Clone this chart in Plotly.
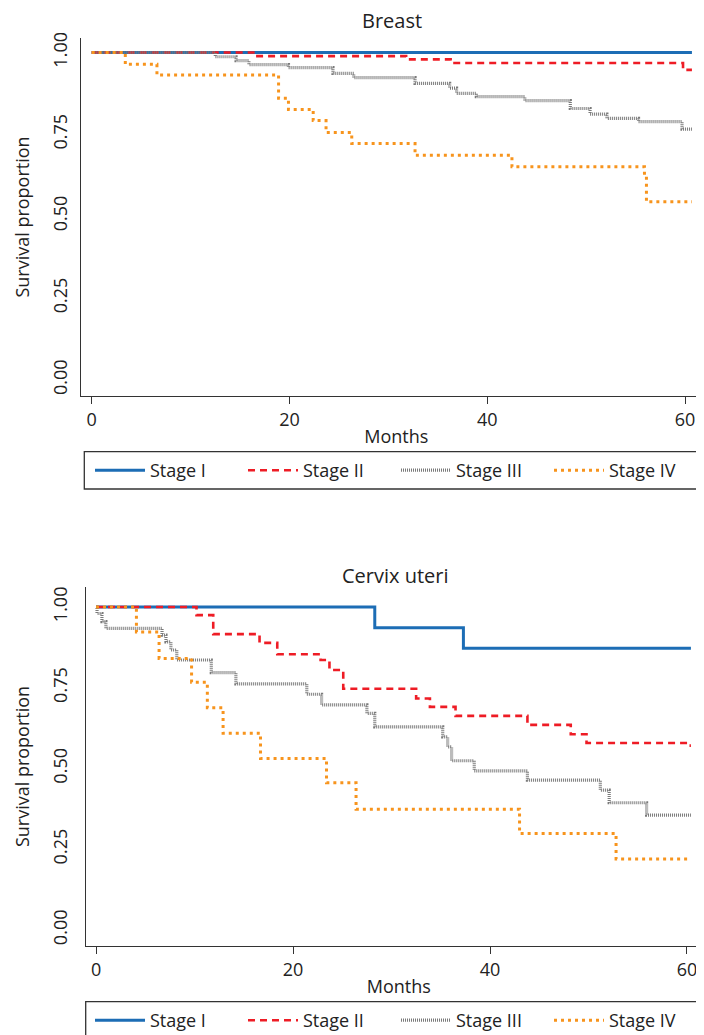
import plotly.graph_objects as go

# ---------------- Data ----------------
# Breast
breast_s1_t = [0, 60.7]
breast_s1_s = [1.0, 1.0]
breast_s2_t = [0, 16.6, 31.8, 36.3, 59.8, 60.7]
breast_s2_s = [1.0, 0.989, 0.979, 0.968, 0.947, 0.947]
breast_s3_t = [0, 12.5, 14.6, 15.9, 19.9, 24.4, 26.5, 32.7, 36.2, 36.9, 38.9,
               43.8, 48.4, 50.4, 52.1, 55.3, 59.7, 60.7]
breast_s3_s = [1.0, 0.987, 0.975, 0.963, 0.954, 0.936, 0.923, 0.906, 0.891, 0.875, 0.865,
               0.853, 0.829, 0.812, 0.799, 0.789, 0.766, 0.766]
breast_s4_t = [0, 3.4, 6.6, 18.9, 19.9, 22.4, 23.7, 26.3, 32.7, 42.5, 55.9, 56.1, 60.7]
breast_s4_s = [1.0, 0.964, 0.931, 0.860, 0.826, 0.792, 0.756, 0.722, 0.686, 0.651, 0.621, 0.544, 0.544]

# Cervix uteri
cervix_s1_t = [0, 28.3, 37.3, 60.4]
cervix_s1_s = [1.0, 0.936, 0.872, 0.872]
cervix_s2_t = [0, 10.2, 11.9, 16.6, 18.4, 22.8, 23.7, 25.1, 32.5, 33.9, 36.5, 43.8, 48.2, 49.8, 60.1, 60.4]
cervix_s2_s = [1.0, 0.975, 0.916, 0.889, 0.854, 0.836, 0.805, 0.747, 0.717, 0.691, 0.663, 0.635, 0.606, 0.579, 0.571, 0.571]
cervix_s3_t = [0, 0.1, 0.6, 1.0, 6.7, 7.1, 7.6, 8.2, 11.7, 14.2, 21.4, 22.9, 27.5, 28.3,
               35.2, 35.7, 36.1, 38.4, 43.8, 51.2, 52.1, 55.9, 60.4]
cervix_s3_s = [1.0, 0.98, 0.955, 0.934, 0.913, 0.892, 0.867, 0.836, 0.797, 0.762, 0.730, 0.697, 0.671, 0.629,
               0.598, 0.567, 0.524, 0.493, 0.464, 0.433, 0.394, 0.356, 0.356]
cervix_s4_t = [0, 4.1, 6.4, 9.7, 11.3, 12.9, 16.7, 23.4, 26.4, 43.0, 52.8, 60.4]
cervix_s4_s = [1.0, 0.923, 0.841, 0.767, 0.688, 0.609, 0.531, 0.456, 0.374, 0.299, 0.220, 0.220]

stage_names = ["Stage I", "Stage II", "Stage III", "Stage IV"]
x_ticks = [0, 20, 40, 60]
y_ticks = [0, 0.25, 0.5, 0.75, 1.0]
y_ticktext = ["0.00", "0.25", "0.50", "0.75", "1.00"]
panel_titles = ["Breast", "Cervix uteri"]

# ---------------- Styles / layout ----------------
FONT = "Open Sans"
W, H = 704, 1035
OFF = 8  # page body margin of the html page: figure sits 8px right/down

styles = [
    dict(color="#1c6db5", width=3, dash="solid"),
    dict(color="#ee1c25", width=2.6, dash="7px,5px"),
    dict(color="#7a7a7a", width=3.2, dash="1px,1px"),
    dict(color="#f7941d", width=3, dash="3px,4px"),
]

fig = go.Figure()

panels = [
    ("x", "y", "legend",
     [(breast_s1_t, breast_s1_s), (breast_s2_t, breast_s2_s),
      (breast_s3_t, breast_s3_s), (breast_s4_t, breast_s4_s)]),
    ("x2", "y2", "legend2",
     [(cervix_s1_t, cervix_s1_s), (cervix_s2_t, cervix_s2_s),
      (cervix_s3_t, cervix_s3_s), (cervix_s4_t, cervix_s4_s)]),
]
for xa, ya, lg, series in panels:
    for name, (t, s), st in zip(stage_names, series, styles):
        fig.add_trace(go.Scatter(
            x=t, y=s, mode="lines", name=name,
            line=dict(shape="hv", **st),
            xaxis=xa, yaxis=ya, legend=lg, showlegend=True,
        ))

def fx(px):
    return (px - OFF) / W

def fy(px):
    return 1 - (px - OFF) / H

TXT = "#222222"
axis_common = dict(
    showline=True, linecolor="#333333", linewidth=1.3, showgrid=False, zeroline=False,
    tickfont=dict(family=FONT, size=18, color=TXT),
)
xcommon = dict(axis_common, tickvals=x_ticks, ticks="outside", ticklen=7, tickcolor="#333333",
               tickwidth=1.2,
               title=dict(text="Months", font=dict(family=FONT, size=18, color=TXT), standoff=0))
ycommon = dict(axis_common, tickvals=y_ticks, ticktext=y_ticktext, ticks="", tickangle=-90)

legend_common = dict(orientation="h", xanchor="left", yanchor="top",
                     bgcolor="rgba(0,0,0,0)", borderwidth=0,
                     font=dict(family=FONT, size=18, color=TXT),
                     itemwidth=50, entrywidth=88, entrywidthmode="pixels")

fig.update_layout(
    width=W, height=H,
    margin=dict(l=0, r=0, t=0, b=0, autoexpand=False),
    paper_bgcolor="white", plot_bgcolor="white",
    font=dict(family=FONT, size=18, color=TXT),
    xaxis=dict(xcommon, domain=[fx(80.7), 1], range=[-1.11, 62.73], anchor="y"),
    yaxis=dict(ycommon, domain=[fy(396), fy(38)], range=[-0.0489, 1.0443], anchor="x",
               ticklabelstandoff=5,
               title=dict(text="Survival proportion", font=dict(family=FONT, size=18, color=TXT),
                          standoff=14)),
    xaxis2=dict(xcommon, domain=[fx(85.7), 1], range=[-1.05, 62.54], anchor="y2"),
    yaxis2=dict(ycommon, domain=[fy(946), fy(587)], range=[-0.0495, 1.062], anchor="x2",
                ticklabelstandoff=10,
                title=dict(text="Survival proportion", font=dict(family=FONT, size=18, color=TXT),
                           standoff=14)),
    legend=dict(legend_common, x=fx(90), y=fy(452)),
    legend2=dict(legend_common, x=fx(90), y=fy(1002)),
    shapes=[
        dict(type="rect", xref="paper", yref="paper", x0=fx(84.3), x1=1.05,
             y0=fy(489), y1=fy(451.7), line=dict(color="#333333", width=1.3)),
        dict(type="rect", xref="paper", yref="paper", x0=fx(85.7), x1=1.05,
             y0=fy(1045), y1=fy(1001.7), line=dict(color="#333333", width=1.3)),
    ],
    annotations=[
        dict(text=panel_titles[0], xref="paper", yref="paper", x=fx(392), y=fy(20),
             xanchor="center", yanchor="middle", showarrow=False,
             font=dict(family=FONT, size=20, color=TXT)),
        dict(text=panel_titles[1], xref="paper", yref="paper", x=fx(395), y=fy(575),
             xanchor="center", yanchor="middle", showarrow=False,
             font=dict(family=FONT, size=20, color=TXT)),
    ],
)

fig.write_html("out.html")
